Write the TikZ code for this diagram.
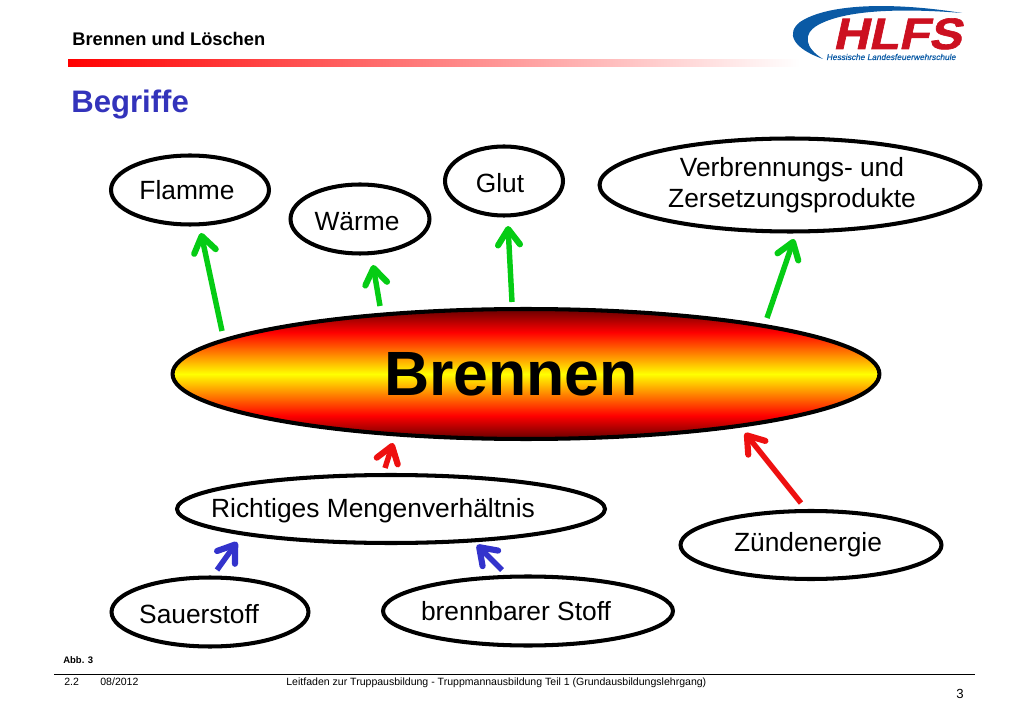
\documentclass[tikz,border=0pt]{standalone}
\usepackage{fontspec}
\setmainfont{Liberation Sans}
\newfontfamily\logofont[FakeSlant=0.22,FakeStretch=1.12,FakeBold=1.5]{Liberation Sans Bold}
\newfontfamily\logosmall[FakeSlant=0.18,FakeBold=0.5]{Liberation Sans}
\usetikzlibrary{arrows.meta,shapes.geometric}
\definecolor{titleblue}{RGB}{51,51,187}
\definecolor{arrowgreen}{RGB}{5,204,20}
\definecolor{arrowred}{RGB}{238,16,16}
\definecolor{arrowblue}{RGB}{51,51,204}
\definecolor{logored}{RGB}{204,16,32}
\definecolor{logoblue}{RGB}{10,90,165}
\newcommand{\tiefer}[2]{\raisebox{-#1}[\height][\depth]{#2}}
\pgfdeclareverticalshading{flame}{100bp}{color(0bp)=(black!60!red); color(25bp)=(black!60!red); color(34bp)=(red); color(50bp)=(yellow); color(66bp)=(red); color(75bp)=(black!60!red); color(100bp)=(black!60!red)}
\tikzset{
  x=0.02cm, y=-0.02cm,
  begriff/.style={draw, ellipse, line width=2.3pt, inner xsep=-2cm, inner ysep=0pt, align=center, font=\fontsize{15}{17.6}\selectfont},
  pfeil/.style={line width=3.1pt, -{Straight Barb[length=9pt,width=12.5pt,line width=3.5pt,round]}},
  gruen/.style={pfeil, color=arrowgreen},
  rot/.style={pfeil, color=arrowred},
  blau/.style={pfeil, color=arrowblue},
  fuss/.style={inner sep=0pt, anchor=base west, font=\fontsize{6}{7}\selectfont}
}
\begin{document}
\begin{tikzpicture}
\useasboundingbox (0,0) rectangle (1024,709);

% header
\node[inner sep=0pt, anchor=base west, font=\bfseries\fontsize{10.4}{12}\selectfont] (kopf) at (72,46) {Brennen und Löschen};
\shade[left color=red, right color=white] (68,60) rectangle (800,67);
\node[inner sep=0pt, anchor=base west, text=titleblue, font=\bfseries\fontsize{17.7}{20}\selectfont] (titel) at (71,113) {Begriffe};

% logo
\fill[logoblue] (962,13) .. controls (900,3) and (830,2) .. (800,22) .. controls (786,33) and (792,48) .. (823,59) .. controls (805,48) and (802,34) .. (818,25) .. controls (845,10) and (900,8) .. (962,13);
\node[inner sep=0pt, anchor=base, text=logored, font=\logofont\fontsize{25}{25}\selectfont] (logo) at (897,49) {HLFS};
\node[inner sep=0pt, anchor=base, text=logoblue, font=\logosmall\fontsize{4.75}{5}\selectfont] (logotext) at (891,60) {Hessische Landesfeuerwehrschule};

% ellipses
\node[begriff, minimum width=3.16cm, minimum height=1.38cm] (flamme) at (190,190) {Flamme\hspace{0.12cm}};
\node[begriff, minimum width=2.78cm, minimum height=1.38cm] (waerme) at (360,219) {\tiefer{0.06cm}{Wärme}\hspace{0.12cm}};
\node[begriff, minimum width=2.36cm, minimum height=1.38cm] (glut) at (504,181) {\tiefer{0.04cm}{Glut}\hspace{0.16cm}};
\node[begriff, minimum width=7.62cm, minimum height=1.86cm] (produkte) at (790,185) {\hspace*{0.08cm}Verbrennungs- und\\\hspace*{0.08cm}Zersetzungsprodukte};
\node[draw, ellipse, line width=2.3pt, inner xsep=-2cm, inner ysep=0pt, align=center, shading=flame, minimum width=14.14cm, minimum height=2.6cm, font=\bfseries\fontsize{35.6}{40}\selectfont] (brennen) at (526,374) {Brennen\hspace{0.6cm}};
\node[begriff, minimum width=8.56cm, minimum height=1.36cm] (verhaeltnis) at (391,509) {\tiefer{0.04cm}{Richtiges Mengenverhältnis}\hspace{0.72cm}};
\node[begriff, minimum width=5.22cm, minimum height=1.36cm] (zuendenergie) at (811,545) {Zündenergie\hspace{0.12cm}};
\node[begriff, minimum width=3.94cm, minimum height=1.38cm] (sauerstoff) at (210,612) {\tiefer{0.04cm}{Sauerstoff}\hspace{0.44cm}};
\node[begriff, minimum width=5.8cm, minimum height=1.38cm] (stoff) at (528,611) {brennbarer Stoff\hspace{0.48cm}};

% free arrow ends
\coordinate (flammeA) at (222,331);
\coordinate (flammeE) at (201,233);
\coordinate (waermeA) at (380,306);
\coordinate (waermeE) at (373,265);
\coordinate (glutA) at (512,302);
\coordinate (glutE) at (508,226);
\coordinate (produkteA) at (767,318);
\coordinate (produkteE) at (794,239);
\coordinate (verhaeltnisA) at (385,468);
\coordinate (verhaeltnisE) at (393,443);
\coordinate (zuendA) at (801,503);
\coordinate (zuendE) at (745,433);
\coordinate (sauerA) at (217,570);
\coordinate (sauerE) at (237,542);
\coordinate (stoffA) at (502,570);
\coordinate (stoffE) at (477,545);

\foreach \a/\b in {flammeA/flammeE, waermeA/waermeE, glutA/glutE, produkteA/produkteE}
\draw[gruen] (\a) -- (\b);
\foreach \a/\b in {verhaeltnisA/verhaeltnisE, zuendA/zuendE}
\draw[rot] (\a) -- (\b);
\foreach \a/\b in {sauerA/sauerE, stoffA/stoffE}
\draw[blau] (\a) -- (\b);

% footer
\node[fuss, font=\bfseries\fontsize{5.4}{6}\selectfont] (abb) at (63,663) {Abb. 3};
\draw[line width=0.8pt] (54,674.5) -- (975,674.5);
\node[fuss] (kapitel) at (64,685) {2.2};
\node[fuss] (datum) at (100,685) {08/2012};
\node[fuss] (leitfaden) at (286,685) {Leitfaden zur Truppausbildung - Truppmannausbildung Teil 1 (Grundausbildungslehrgang)};
\node[inner sep=0pt, anchor=base, font=\fontsize{7.5}{9}\selectfont] (seite) at (960,698) {3};
\end{tikzpicture}
\end{document}
